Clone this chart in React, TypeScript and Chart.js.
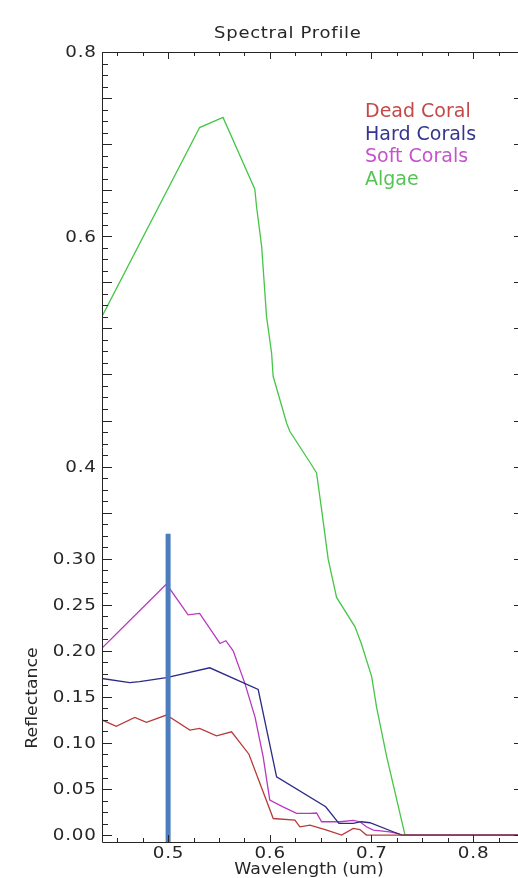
import { useEffect, useRef } from 'react';
import { Chart, registerables } from 'chart.js';

Chart.register(...registerables);

// ---- Data (wavelength in um, reflectance) ----
const deadCoralWl = [0.435, 0.449, 0.4672, 0.4787, 0.4984, 0.5214, 0.531, 0.5476, 0.5624, 0.5795, 0.6034, 0.6247, 0.6296, 0.6395, 0.656, 0.6707, 0.682, 0.6887, 0.695, 0.85];
const deadCoralRefl = [0.125, 0.118, 0.1277, 0.1223, 0.1303, 0.114, 0.1158, 0.1078, 0.1121, 0.0878, 0.018, 0.0163, 0.009, 0.0109, 0.0054, 0.0, 0.0072, 0.006, 0.0, 0.0];

const hardCoralsWl = [0.435, 0.4623, 0.472, 0.4984, 0.541, 0.5886, 0.6067, 0.655, 0.668, 0.682, 0.69, 0.6985, 0.725, 0.73, 0.85];
const hardCoralsRefl = [0.17, 0.1654, 0.1665, 0.171, 0.1816, 0.158, 0.0633, 0.0307, 0.0127, 0.0127, 0.0145, 0.0134, 0.002, 0.0, 0.0];

const softCoralsWl = [0.435, 0.4984, 0.5197, 0.531, 0.551, 0.5568, 0.564, 0.5755, 0.5855, 0.5935, 0.6, 0.613, 0.6264, 0.6395, 0.646, 0.651, 0.669, 0.682, 0.6887, 0.695, 0.7018, 0.718, 0.7248, 0.73, 0.85];
const softCoralsRefl = [0.203, 0.2725, 0.239, 0.2407, 0.208, 0.211, 0.2, 0.1647, 0.128, 0.085, 0.038, 0.0307, 0.0236, 0.0236, 0.024, 0.0145, 0.0145, 0.016, 0.0145, 0.009, 0.0054, 0.0036, 0.002, 0.0, 0.0];

const algaeWl = [0.435, 0.531, 0.554, 0.5853, 0.587, 0.592, 0.5968, 0.6018, 0.6033, 0.6166, 0.6198, 0.641, 0.646, 0.651, 0.6575, 0.6657, 0.6838, 0.69, 0.7002, 0.705, 0.715, 0.733, 0.85];
const algaeRefl = [0.563, 0.768, 0.779, 0.701, 0.682, 0.639, 0.563, 0.523, 0.498, 0.447, 0.438, 0.402, 0.393, 0.353, 0.299, 0.258, 0.226, 0.208, 0.172, 0.139, 0.085, 0.0, 0.0];

// selected wavelength marker
const markerWl = [0.5, 0.5];
const markerRefl = [-0.0075, 0.327];

// axes
const xMin = 0.435;
const xMax = 0.85;
const yMin = -0.0075;
const yMax = 0.85;
const xTickValues = [0.5, 0.6, 0.7, 0.8];
const xTickLabels = ['0.5', '0.6', '0.7', '0.8'];
const yTickValues = [0, 0.05, 0.1, 0.15, 0.2, 0.25, 0.3, 0.4, 0.65, 0.85];
const yTickLabels = ['0.00', '0.05', '0.10', '0.15', '0.20', '0.25', '0.30', '0.4', '0.6', '0.8'];

const seriesNames = ['Dead Coral', 'Hard Corals', 'Soft Corals', 'Algae'];
const seriesColors = ['#b83a3a', '#2b2b86', '#b838c0', '#46c646'];
const legendColors = ['#c44848', '#35358f', '#c453cc', '#55c455'];

const titleText = 'Spectral Profile';
const xTitle = 'Wavelength (um)';
const yTitle = 'Reflectance';

const FONT = '"DejaVu Sans", Verdana, sans-serif';
const INK = '#262626';

function pts(xs: number[], ys: number[]) {
  return xs.map((x, i) => ({ x, y: ys[i] }));
}

function drawText(
  ctx: CanvasRenderingContext2D,
  text: string,
  x: number,
  y: number,
  o: { size: number; align: 'left' | 'center' | 'right'; scaleX: number; spacing: number; color: string; rotate?: boolean }
) {
  ctx.save();
  ctx.translate(x, y);
  if (o.rotate) ctx.rotate(-Math.PI / 2);
  ctx.scale(o.scaleX, 1);
  ctx.font = `${o.size}px ${FONT}`;
  (ctx as any).letterSpacing = `${o.spacing}px`;
  ctx.textAlign = 'left';
  ctx.textBaseline = 'alphabetic';
  ctx.fillStyle = o.color;
  let w = ctx.measureText(text).width;
  w -= o.spacing;
  const off = o.align === 'center' ? -w / 2 : o.align === 'right' ? -w : 0;
  ctx.fillText(text, off, 0);
  ctx.restore();
}

const idlPlugin = {
  id: 'idlAxes',
  beforeDraw(chart: any) {
    const ctx = chart.ctx as CanvasRenderingContext2D;
    ctx.save();
    ctx.fillStyle = '#ffffff';
    ctx.fillRect(0, 0, chart.width, chart.height);
    ctx.restore();
  },
  afterDraw(chart: any) {
    const ctx = chart.ctx as CanvasRenderingContext2D;
    const { left, right, top, bottom } = chart.chartArea;
    const xs = chart.scales.x;
    const ys = chart.scales.y;
    ctx.save();
    ctx.strokeStyle = INK;
    ctx.lineWidth = 1;
    // frame
    ctx.beginPath();
    ctx.moveTo(left + 0.5, top + 0.5);
    ctx.lineTo(right + 0.5, top + 0.5);
    ctx.lineTo(right + 0.5, bottom + 0.5);
    ctx.lineTo(left + 0.5, bottom + 0.5);
    ctx.closePath();
    ctx.stroke();

    // left minor/major ticks
    ctx.beginPath();
    for (let i = 0; i <= 68; i++) {
      const v = i * 0.0125;
      const py = Math.round(ys.getPixelForValue(v)) + 0.5;
      const len = i % 4 === 0 ? 10 : 6;
      ctx.moveTo(left, py);
      ctx.lineTo(left + len, py);
    }
    // right ticks
    for (let i = 0; i <= 17; i++) {
      const v = i * 0.05;
      const py = Math.round(ys.getPixelForValue(v)) + 0.5;
      ctx.moveTo(right, py);
      ctx.lineTo(right - 10, py);
    }
    // top & bottom ticks
    for (let i = 0; i <= 20; i++) {
      const v = 0.35 + i * 0.025;
      if (v < xMin - 1e-9 || v > xMax + 1e-9) continue;
      const px = Math.round(xs.getPixelForValue(v)) + 0.5;
      const major = Math.abs(v * 10 - Math.round(v * 10)) < 1e-6;
      const len = major ? 7 : 4;
      ctx.moveTo(px, top);
      ctx.lineTo(px, top + len);
      ctx.moveTo(px, bottom);
      ctx.lineTo(px, bottom - len);
    }
    ctx.stroke();
    ctx.restore();

    // y tick labels
    yTickValues.forEach((v, i) => {
      const py = ys.getPixelForValue(v);
      drawText(ctx, yTickLabels[i], 96, py + 5.4, { size: 15, align: 'right', scaleX: 1.22, spacing: 0.7, color: INK });
    });
    // x tick labels
    xTickValues.forEach((v, i) => {
      const px = xs.getPixelForValue(v);
      drawText(ctx, xTickLabels[i], px, 858, { size: 15, align: 'center', scaleX: 1.22, spacing: 0.7, color: INK });
    });
    // titles
    drawText(ctx, titleText, 287.5, 37.5, { size: 15, align: 'center', scaleX: 1.2, spacing: 0.6, color: INK });
    drawText(ctx, xTitle, 309, 873.5, { size: 16, align: 'center', scaleX: 1.08, spacing: 0, color: INK });
    drawText(ctx, yTitle, 36.5, 698, { size: 16, align: 'center', scaleX: 1.08, spacing: 0, color: INK, rotate: true });

    // legend
    ctx.save();
    ctx.font = `19px ${FONT}`;
    ctx.textAlign = 'left';
    ctx.textBaseline = 'alphabetic';
    seriesNames.forEach((n, i) => {
      ctx.fillStyle = legendColors[i];
      ctx.fillText(n, 365, 117.3 + i * 22.5);
    });
    ctx.restore();
  },
};

export default function App() {
  const ref = useRef<HTMLCanvasElement>(null);
  useEffect(() => {
    const canvas = ref.current!;
    const lineDs = (label: string, xs: number[], ys: number[], color: string, order: number) => ({
      label,
      data: pts(xs, ys),
      borderColor: color,
      backgroundColor: color,
      borderWidth: 1.3,
      pointRadius: 0,
      tension: 0,
      fill: false,
      order,
    });
    const chart = new Chart(canvas, {
      type: 'line',
      data: {
        datasets: [
          {
            label: 'Selected band',
            data: pts(markerWl, markerRefl),
            borderColor: '#4d7dbd',
            backgroundColor: '#4d7dbd',
            borderWidth: 5,
            borderCapStyle: 'butt',
            pointRadius: 0,
            tension: 0,
            fill: false,
            order: 0,
          } as any,
          lineDs(seriesNames[0], deadCoralWl, deadCoralRefl, seriesColors[0], 1),
          lineDs(seriesNames[1], hardCoralsWl, hardCoralsRefl, seriesColors[1], 2),
          lineDs(seriesNames[2], softCoralsWl, softCoralsRefl, seriesColors[2], 3),
          lineDs(seriesNames[3], algaeWl, algaeRefl, seriesColors[3], 4),
        ],
      },
      options: {
        responsive: false,
        maintainAspectRatio: false,
        devicePixelRatio: 1,
        animation: false,
        events: [],
        layout: { padding: { left: 102, right: 6, top: 52, bottom: 36 } },
        scales: {
          x: { type: 'linear', min: xMin, max: xMax, display: false },
          y: { type: 'linear', min: yMin, max: yMax, display: false },
        },
        plugins: {
          legend: { display: false },
          tooltip: { enabled: false },
          title: { display: false },
        },
      },
      plugins: [idlPlugin],
    });
    return () => chart.destroy();
  }, []);
  return (
    <div style={{ position: 'fixed', left: 0, top: 0, width: 518, height: 878, overflow: 'hidden', background: '#fff' }}>
      <canvas ref={ref} width={530} height={878} style={{ display: 'block', width: 530, height: 878 }} />
    </div>
  );
}
